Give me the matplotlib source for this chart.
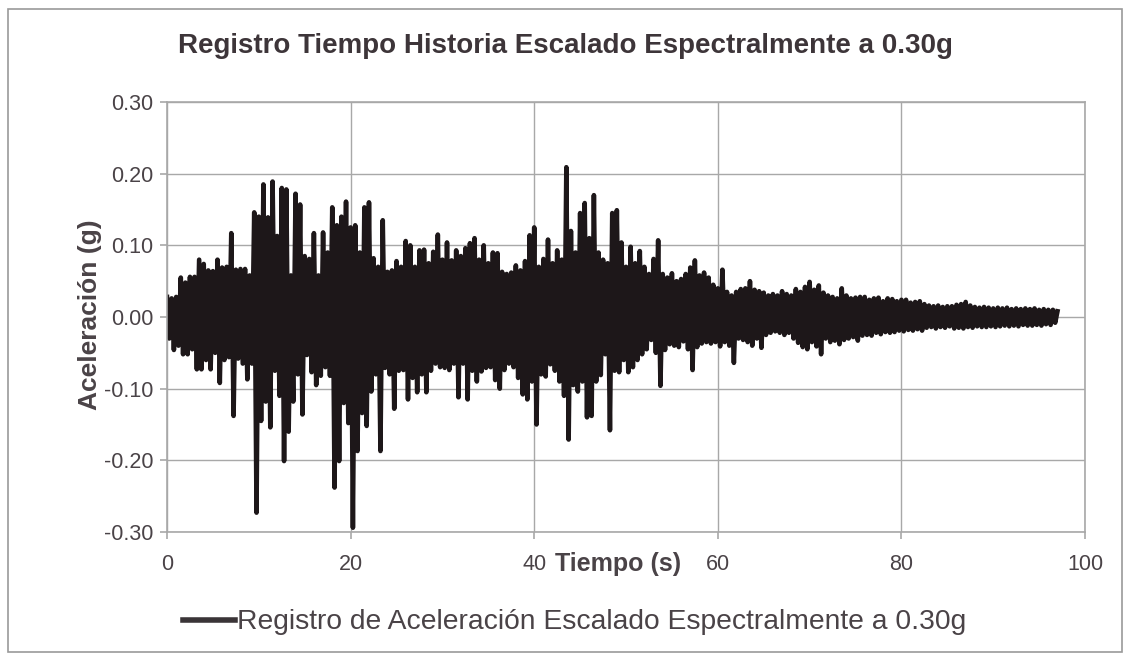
import numpy as np
import matplotlib
matplotlib.use("Agg")
import matplotlib.pyplot as plt
from matplotlib.patches import Rectangle

titulo = "Registro Tiempo Historia Escalado Espectralmente a 0.30g"
etiqueta_x = "Tiempo (s)"
etiqueta_y = "Aceleración (g)"
leyenda = "Registro de Aceleración Escalado Espectralmente a 0.30g"

# peaks: positive ones every 0.5 s from t=0,
# negative ones in between (t=0.25, 0.75, ...)
dt_pico = 0.5
pico_pos = [
    0.028, 0.026, 0.028, 0.055, 0.048, 0.056, 0.056, 0.080, 0.074, 0.065,
    0.064, 0.080, 0.069, 0.070, 0.117, 0.066, 0.067, 0.067, 0.058, 0.146,
    0.140, 0.185, 0.139, 0.189, 0.113, 0.180, 0.178, 0.058, 0.172, 0.157,
    0.085, 0.081, 0.117, 0.058, 0.118, 0.090, 0.153, 0.128, 0.140, 0.161,
    0.125, 0.128, 0.090, 0.153, 0.160, 0.082, 0.070, 0.135, 0.063, 0.065,
    0.078, 0.070, 0.106, 0.100, 0.070, 0.093, 0.094, 0.075, 0.091, 0.115,
    0.080, 0.104, 0.079, 0.093, 0.085, 0.096, 0.103, 0.110, 0.080, 0.100,
    0.075, 0.090, 0.089, 0.063, 0.060, 0.062, 0.072, 0.065, 0.078, 0.114,
    0.125, 0.070, 0.081, 0.108, 0.075, 0.093, 0.080, 0.209, 0.120, 0.090,
    0.145, 0.159, 0.110, 0.170, 0.090, 0.080, 0.075, 0.145, 0.149, 0.104,
    0.070, 0.098, 0.075, 0.092, 0.070, 0.060, 0.081, 0.107, 0.060, 0.055,
    0.061, 0.050, 0.053, 0.060, 0.069, 0.079, 0.058, 0.062, 0.055, 0.045,
    0.040, 0.066, 0.035, 0.030, 0.035, 0.039, 0.040, 0.050, 0.038, 0.036,
    0.034, 0.030, 0.032, 0.030, 0.036, 0.032, 0.030, 0.039, 0.035, 0.042,
    0.049, 0.038, 0.044, 0.034, 0.030, 0.028, 0.026, 0.040, 0.030, 0.026,
    0.027, 0.028, 0.028, 0.024, 0.026, 0.027, 0.022, 0.026, 0.025, 0.022,
    0.024, 0.024, 0.020, 0.021, 0.022, 0.018, 0.016, 0.015, 0.016, 0.014,
    0.015, 0.015, 0.017, 0.018, 0.021, 0.016, 0.014, 0.013, 0.014, 0.013,
    0.012, 0.013, 0.012, 0.013, 0.011, 0.012, 0.011, 0.012, 0.011, 0.012,
    0.010, 0.011, 0.010, 0.010, 0.008,
]
pico_neg = [
    -0.030, -0.046, -0.040, -0.052, -0.052, -0.045, -0.073, -0.073, -0.060, -0.073,
    -0.050, -0.092, -0.060, -0.056, -0.138, -0.058, -0.065, -0.087, -0.065, -0.273,
    -0.145, -0.118, -0.154, -0.075, -0.110, -0.201, -0.160, -0.118, -0.080, -0.136,
    -0.053, -0.077, -0.095, -0.082, -0.070, -0.082, -0.238, -0.201, -0.120, -0.148,
    -0.294, -0.187, -0.134, -0.152, -0.104, -0.080, -0.187, -0.071, -0.080, -0.128,
    -0.075, -0.074, -0.115, -0.085, -0.105, -0.080, -0.105, -0.075, -0.065, -0.070,
    -0.071, -0.074, -0.065, -0.112, -0.065, -0.115, -0.075, -0.090, -0.076, -0.071,
    -0.070, -0.088, -0.100, -0.074, -0.065, -0.070, -0.085, -0.108, -0.115, -0.090,
    -0.150, -0.080, -0.083, -0.066, -0.075, -0.090, -0.110, -0.171, -0.095, -0.104,
    -0.090, -0.140, -0.138, -0.090, -0.081, -0.052, -0.158, -0.075, -0.077, -0.060,
    -0.077, -0.070, -0.060, -0.052, -0.045, -0.032, -0.050, -0.096, -0.046, -0.038,
    -0.040, -0.042, -0.034, -0.045, -0.074, -0.042, -0.037, -0.035, -0.037, -0.035,
    -0.041, -0.035, -0.040, -0.064, -0.030, -0.032, -0.035, -0.040, -0.030, -0.043,
    -0.025, -0.022, -0.020, -0.022, -0.025, -0.022, -0.030, -0.036, -0.042, -0.045,
    -0.035, -0.041, -0.052, -0.030, -0.035, -0.033, -0.038, -0.032, -0.030, -0.028,
    -0.033, -0.026, -0.025, -0.026, -0.022, -0.024, -0.021, -0.022, -0.021, -0.019,
    -0.020, -0.018, -0.019, -0.017, -0.019, -0.015, -0.014, -0.016, -0.014, -0.015,
    -0.013, -0.016, -0.015, -0.016, -0.014, -0.015, -0.013, -0.014, -0.014, -0.013,
    -0.014, -0.013, -0.012, -0.013, -0.012, -0.013, -0.011, -0.012, -0.012, -0.011,
    -0.012, -0.010, -0.011, -0.008,
]

ticks_x = [0, 20, 40, 60, 80, 100]
ticks_y = [-0.30, -0.20, -0.10, 0.00, 0.10, 0.20, 0.30]

# interleave the peaks into one trace
t_pos = np.arange(len(pico_pos)) * dt_pico
t_neg = np.arange(len(pico_neg)) * dt_pico + dt_pico / 2
t = np.empty(len(t_pos) + len(t_neg))
a = np.empty_like(t)
t[0::2] = t_pos
t[1::2] = t_neg
a[0::2] = pico_pos
a[1::2] = pico_neg

plt.rcParams["font.family"] = ["Liberation Sans", "DejaVu Sans"]
texto = "#4a4347"
gris = "#a8a8a8"

fig = plt.figure(figsize=(11.3, 6.6), dpi=100)
fig.patch.set_facecolor("white")
fig.patches.append(Rectangle((0.007, 0.012), 0.986, 0.974, transform=fig.transFigure,
                             fill=False, edgecolor="#9a9a9a", linewidth=1.2))

ax = fig.add_axes([0.1478, 0.1939, 0.8124, 0.6516])
linea, = ax.plot(t, a, color="#1d1719", linewidth=3.3, solid_joinstyle="round")

ax.set_xlim(0, 100)
ax.set_ylim(-0.30, 0.30)
ax.set_xticks(ticks_x)
ax.set_yticks(ticks_y)
ax.set_yticklabels([f"{v:.2f}" for v in ticks_y])
ax.grid(True, color=gris, linewidth=1.0)
ax.set_axisbelow(True)
for s in ax.spines.values():
    s.set_color(gris)
    s.set_linewidth(1.2)
ax.tick_params(axis="both", colors=gris, labelcolor=texto, labelsize=15.5,
               length=5, width=1.2, direction="out")
ax.tick_params(axis="y", pad=5)
ax.tick_params(axis="x", pad=11)

fig.text(0.500, 0.930, titulo, ha="center", va="center", fontsize=20,
         fontweight="bold", color="#3d3539")
fig.text(0.080, 0.523, etiqueta_y, ha="center", va="center", rotation=90,
         fontsize=19, fontweight="bold", color=texto)
fig.text(0.547, 0.146, etiqueta_x, ha="center", va="center", fontsize=18,
         fontweight="bold", color=texto)

fig.legend([linea], [leyenda], loc="center left", bbox_to_anchor=(0.162, 0.057),
           frameon=False, fontsize=20.3, handlelength=1.85, handletextpad=0.08,
           borderpad=0, borderaxespad=0, labelcolor=texto)
for lh in fig.legends[0].get_lines():
    lh.set_color("#3a3437")
    lh.set_linewidth(4)

fig.savefig("out.png", dpi=100, facecolor="white")
